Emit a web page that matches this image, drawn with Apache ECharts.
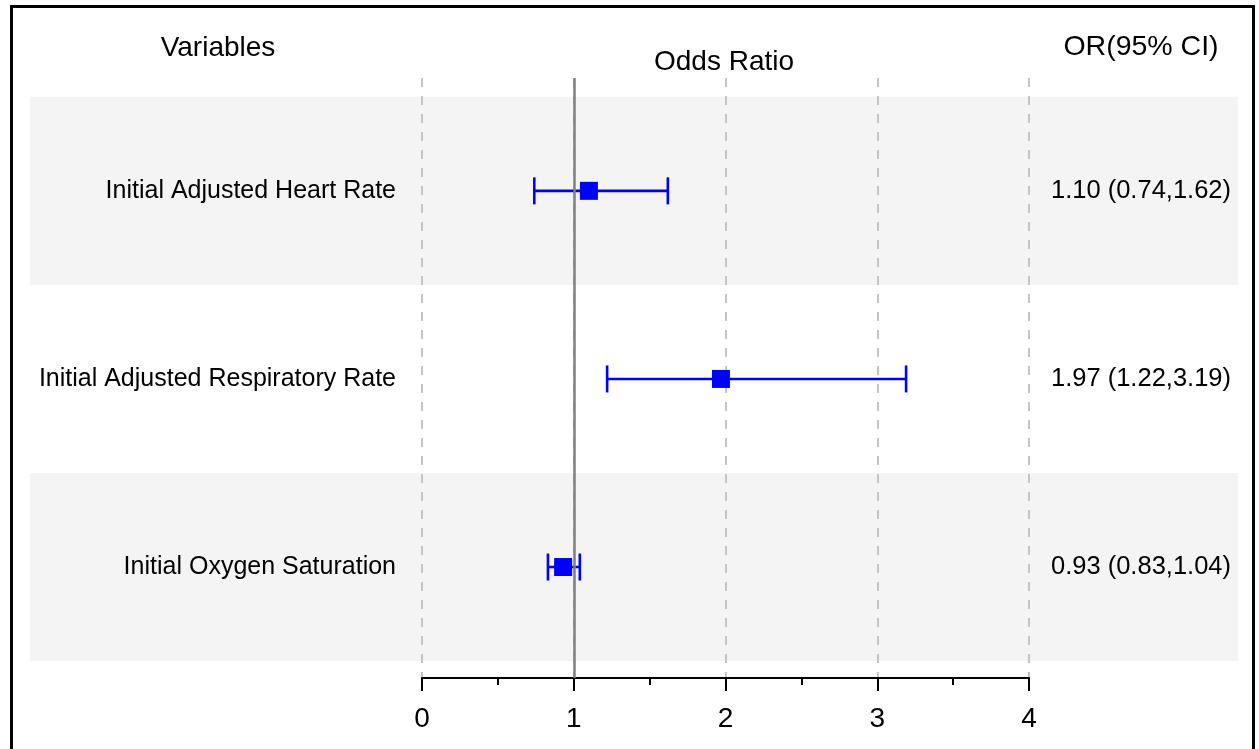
<!DOCTYPE html>
<html>
<head>
<meta charset="utf-8">
<script src="https://cdn.jsdelivr.net/npm/echarts@6/dist/echarts.min.js"></script>
<style>
html,body{margin:0;padding:0;background:#fff;}
#chart{width:1259px;height:749px;}
</style>
</head>
<body>
<div id="chart"></div>
<script>
// ---- data ----
const variables = ['Initial Adjusted Heart Rate', 'Initial Adjusted Respiratory Rate', 'Initial Oxygen Saturation'];
const orValues = [1.10, 1.97, 0.93];
const lowerCI = [0.74, 1.22, 0.83];
const upperCI = [1.62, 3.19, 1.04];
const orLabels = ['1.10 (0.74,1.62)', '1.97 (1.22,3.19)', '0.93 (0.83,1.04)'];
const xTicks = [0, 1, 2, 3, 4];
const headers = ['Variables', 'Odds Ratio', 'OR(95% CI)'];
const shadedRows = [1, 3];

const FONT = '"Liberation Sans", Arial, sans-serif';
const rows = variables.map((v, i) => i + 1);
const barData = rows.map((r, i) => [orValues[i], r, lowerCI[i], upperCI[i]]);
const labelData = rows.map((r, i) => [0, r, i]);

const chart = echarts.init(document.getElementById('chart'), null, {renderer: 'canvas'});
const option = {
  backgroundColor: '#ffffff',
  animation: false,
  grid: {left: 422, right: 230, top: 78, bottom: 71},
  xAxis: {
    type: 'value', min: xTicks[0], max: xTicks[xTicks.length - 1], interval: 1,
    axisLine: {show: true, lineStyle: {color: '#000', width: 2}},
    axisTick: {show: true, length: 13, lineStyle: {color: '#000', width: 2}},
    minorTick: {show: true, splitNumber: 2, length: 7, lineStyle: {color: '#000', width: 2}},
    splitLine: {show: true, lineStyle: {color: '#c4c4c4', width: 2, type: [9, 9]}},
    axisLabel: {fontFamily: FONT, fontSize: 28, color: '#000', margin: 27}
  },
  yAxis: {
    type: 'value', min: 0.4, max: 3.59, inverse: true, show: false,
    splitLine: {show: false}
  },
  graphic: [
    {type: 'rect', shape: {x: 11.5, y: 6.5, width: 1242, height: 800}, style: {fill: null, stroke: '#000', lineWidth: 3}, z: 100},
    {type: 'text', style: {x: 218, y: 48, text: headers[0], font: '28px ' + FONT, fill: '#000', textAlign: 'center', textVerticalAlign: 'middle'}},
    {type: 'text', style: {x: 724, y: 62, text: headers[1], font: '28px ' + FONT, fill: '#000', textAlign: 'center', textVerticalAlign: 'middle'}},
    {type: 'text', style: {x: 1141, y: 47, text: headers[2], font: '28.5px ' + FONT, fill: '#000', textAlign: 'center', textVerticalAlign: 'middle'}}
  ],
  series: [
    {
      type: 'custom', name: 'bands', z: -1, silent: true, clip: false,
      data: shadedRows.map(r => [0, r]),
      renderItem: function (params, api) {
        const r = api.value(1);
        const top = api.coord([0, r - 0.5])[1];
        const bot = api.coord([0, r + 0.5])[1];
        return {type: 'rect', shape: {x: 30, y: top, width: api.getWidth() - 21 - 30, height: bot - top}, style: {fill: '#f4f4f4'}};
      }
    },
    {
      type: 'line', name: 'ref', data: [], z: 1,
      markLine: {silent: true, symbol: 'none', label: {show: false},
        lineStyle: {color: '#808080', width: 2.5, type: 'solid'},
        data: [{xAxis: 1}]}
    },
    {
      type: 'custom', name: 'labels', z: 2, clip: false, silent: true,
      data: labelData,
      renderItem: function (params, api) {
        const r = api.value(1);
        const idx = api.value(2);
        const y = api.coord([0, r])[1];
        return {type: 'group', children: [
          {type: 'text', style: {x: 396, y: y, text: variables[idx], font: '25px ' + FONT, fill: '#000', textAlign: 'right', textVerticalAlign: 'middle'}},
          {type: 'text', style: {x: 1141, y: y, text: orLabels[idx], font: '25.5px ' + FONT, fill: '#000', textAlign: 'center', textVerticalAlign: 'middle'}}
        ]};
      }
    },
    {
      type: 'custom', name: 'OR', z: 3, clip: false,
      data: barData,
      renderItem: function (params, api) {
        const r = api.value(1);
        const c = api.coord([api.value(0), r]);
        const lo = api.coord([api.value(2), r]);
        const hi = api.coord([api.value(3), r]);
        const cap = 13.5, s = 18;
        const ls = {stroke: '#0000ff', lineWidth: 2.6};
        return {type: 'group', children: [
          {type: 'line', shape: {x1: lo[0], y1: c[1], x2: hi[0], y2: c[1]}, style: ls},
          {type: 'line', shape: {x1: lo[0], y1: c[1] - cap, x2: lo[0], y2: c[1] + cap}, style: ls},
          {type: 'line', shape: {x1: hi[0], y1: c[1] - cap, x2: hi[0], y2: c[1] + cap}, style: ls},
          {type: 'rect', shape: {x: c[0] - s / 2, y: c[1] - s / 2, width: s, height: s}, style: {fill: '#0000ff'}}
        ]};
      }
    }
  ]
};
chart.setOption(option);
</script>
</body>
</html>
